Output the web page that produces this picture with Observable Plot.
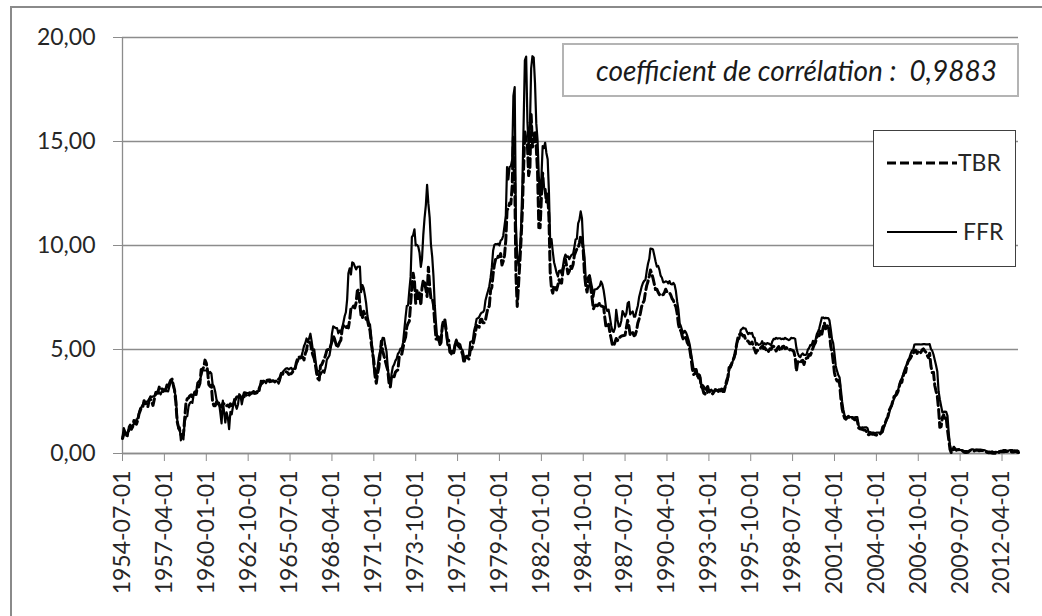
<!DOCTYPE html>
<html>
<head>
<meta charset="utf-8">
<script src="https://cdn.jsdelivr.net/npm/d3@7"></script>
<script src="https://cdn.jsdelivr.net/npm/@observablehq/plot@0.6"></script>
<style>
  html, body { margin: 0; padding: 0; background: #fff; }
  #wrap { position: relative; width: 1042px; height: 616px; overflow: hidden; font-family: Lato, "Open Sans", sans-serif; }
  #wrap > svg.plot { position: absolute; left: 0; top: 0; }
  #frame { position: absolute; left: 10px; top: 6px; width: 1040px; height: 620px; border: 2px solid #8a8a8a; box-sizing: border-box; pointer-events: none; }
  #corr { position: absolute; left: 562px; top: 43px; width: 457px; height: 54px; border: 2px solid #b4b4b4; box-sizing: border-box; background: #fff;
          font-style: italic; font-size: 28px; color: #1a1a1a; display: flex; align-items: center; justify-content: center; padding-left: 12px; white-space: pre; }
  #legend { position: absolute; left: 873px; top: 130px; width: 143px; height: 137px; border: 1.5px solid #404040; box-sizing: border-box; background: #fff; }
</style>
</head>
<body>
<div id="wrap">
  <div id="chart"></div>
  <div id="frame"></div>
  <div id="corr"></div>
  <div id="legend"></div>
</div>
<script>
// ---- data (monthly, starting 1954-07) ----
const startMonth = "1954-07-01";
const seriesNames = ["TBR", "FFR"];
const corrLabel = "coefficient de corrélation :  0,9883";
const yTicks = [0, 5, 10, 15, 20];
const xTickLabels = ["1954-07-01","1957-04-01","1960-01-01","1962-10-01","1965-07-01","1968-04-01","1971-01-01","1973-10-01","1976-07-01","1979-04-01","1982-01-01","1984-10-01","1987-07-01","1990-04-01","1993-01-01","1995-10-01","1998-07-01","2001-04-01","2004-01-01","2006-10-01","2009-07-01","2012-04-01"];

const ffr = [
0.80,1.22,1.06,0.85,0.83,1.28,
1.39,1.29,1.35,1.43,1.43,1.64,1.68,1.96,2.18,2.24,2.35,2.48,
2.45,2.50,2.50,2.62,2.75,2.71,2.75,2.73,2.95,2.96,2.88,2.94,
2.84,3.00,2.96,3.00,3.00,3.00,2.99,3.24,3.47,3.50,3.28,2.98,
2.72,1.67,1.20,1.26,0.63,0.93,0.68,1.53,1.76,1.80,2.27,2.42,
2.48,2.43,2.80,2.96,2.90,3.39,3.47,3.50,3.76,3.98,4.00,3.99,
3.99,3.97,3.84,3.92,3.85,3.32,3.23,2.98,2.60,2.47,2.44,1.98,
1.45,2.54,2.02,1.49,1.98,1.73,1.17,2.00,1.88,2.26,2.61,2.33,
2.15,2.37,2.85,2.78,2.36,2.68,2.71,2.93,2.90,2.90,2.94,2.93,
2.92,3.00,2.98,2.90,3.00,2.99,3.02,3.49,3.48,3.50,3.48,3.38,
3.48,3.48,3.43,3.47,3.50,3.50,3.42,3.50,3.45,3.36,3.52,3.85,
3.90,3.98,4.04,4.09,4.10,4.04,4.09,4.12,4.01,4.08,4.10,4.32,
4.42,4.60,4.65,4.67,4.90,5.17,5.30,5.53,5.40,5.53,5.76,5.40,
4.94,5.00,4.53,4.05,3.94,3.98,3.79,3.90,3.99,3.88,4.13,4.51,
4.61,4.71,5.05,5.76,6.11,6.07,6.03,6.03,5.78,5.91,5.82,6.02,
6.30,6.61,6.79,7.41,8.67,8.90,8.61,9.19,9.15,9.00,8.85,8.97,
8.98,8.98,7.76,8.10,7.95,7.61,7.21,6.61,6.29,6.20,5.60,4.90,
4.14,3.72,3.71,4.16,4.63,4.91,5.31,5.56,5.55,5.20,4.91,4.14,
3.50,3.29,3.83,4.17,4.27,4.46,4.55,4.80,4.87,5.04,5.06,5.33,
5.94,6.58,7.09,7.12,7.84,8.49,10.40,10.50,10.78,10.01,10.03,9.95,
9.65,8.97,9.35,10.51,11.31,11.93,12.92,12.01,11.34,10.06,9.45,8.53,
7.13,6.24,5.54,5.49,5.22,5.55,6.10,6.14,6.24,5.82,5.22,5.20,
4.87,4.77,4.84,4.82,5.29,5.48,5.31,5.29,5.25,5.02,4.95,4.65,
4.61,4.68,4.69,4.73,5.35,5.39,5.42,5.90,6.14,6.47,6.51,6.56,
6.70,6.78,6.79,6.89,7.36,7.60,7.81,8.04,8.45,8.96,9.76,10.03,
10.07,10.06,10.09,10.01,10.24,10.29,10.47,10.94,11.43,13.77,13.18,13.78,
13.82,14.13,17.19,17.61,10.98,9.47,9.03,9.61,10.87,12.81,15.85,18.90,
19.08,15.93,14.70,15.72,18.52,19.10,19.04,17.82,15.87,15.08,13.31,12.37,
13.22,14.78,14.68,14.94,14.45,14.15,12.59,10.12,10.31,9.71,9.20,8.95,
8.68,8.51,8.77,8.80,8.63,8.98,9.37,9.56,9.45,9.48,9.34,9.47,
9.56,9.59,9.91,10.29,10.32,11.06,11.23,11.64,11.30,9.99,9.43,8.38,
8.35,8.50,8.58,8.27,7.97,7.53,7.88,7.90,7.92,7.99,8.05,8.27,
8.14,7.86,7.48,6.99,6.85,6.92,6.56,6.17,5.89,5.85,6.04,6.91,
6.43,6.10,6.13,6.37,6.85,6.73,6.58,6.73,7.22,7.29,6.69,6.77,
6.83,6.58,6.58,6.87,7.09,7.51,7.75,8.01,8.19,8.30,8.35,8.76,
9.12,9.36,9.85,9.84,9.81,9.53,9.24,8.99,9.02,8.84,8.55,8.45,
8.23,8.24,8.28,8.26,8.18,8.29,8.15,8.13,8.20,8.11,7.81,7.31,
6.91,6.25,6.12,5.91,5.78,5.90,5.82,5.66,5.45,5.21,4.81,4.43,
4.03,4.06,3.98,3.73,3.82,3.76,3.25,3.30,3.22,3.10,3.09,2.92,
3.02,3.03,3.07,2.96,3.00,3.04,3.06,3.03,3.09,2.99,3.02,2.96,
3.05,3.25,3.34,3.56,4.01,4.25,4.26,4.47,4.73,4.76,5.29,5.45,
5.53,5.92,5.98,6.05,6.01,6.00,5.85,5.74,5.80,5.76,5.80,5.60,
5.56,5.22,5.31,5.22,5.24,5.27,5.40,5.22,5.30,5.24,5.31,5.29,
5.25,5.19,5.39,5.51,5.50,5.56,5.52,5.54,5.54,5.50,5.52,5.50,
5.56,5.51,5.49,5.45,5.49,5.56,5.54,5.55,5.51,5.07,4.83,4.68,
4.63,4.76,4.81,4.74,4.74,4.76,4.99,5.07,5.22,5.20,5.42,5.30,
5.45,5.73,5.85,6.02,6.27,6.53,6.54,6.50,6.52,6.51,6.51,6.40,
5.98,5.49,5.31,4.80,4.21,3.97,3.77,3.65,3.07,2.49,2.09,1.82,
1.73,1.74,1.73,1.75,1.75,1.75,1.73,1.74,1.75,1.75,1.34,1.24,
1.24,1.26,1.25,1.26,1.26,1.22,1.01,1.03,1.01,1.01,1.00,0.98,
1.00,1.01,1.00,1.00,1.00,1.03,1.26,1.43,1.61,1.76,1.93,2.16,
2.28,2.50,2.63,2.79,3.00,3.04,3.26,3.50,3.62,3.78,4.00,4.16,
4.29,4.49,4.59,4.79,4.94,4.99,5.24,5.25,5.25,5.25,5.25,5.24,
5.25,5.26,5.26,5.25,5.25,5.25,5.26,5.02,4.94,4.76,4.49,4.24,
3.94,2.98,2.61,2.28,1.98,2.00,2.01,2.00,1.81,0.97,0.39,0.16,
0.15,0.22,0.18,0.15,0.18,0.21,0.16,0.16,0.15,0.12,0.12,0.12,
0.11,0.13,0.16,0.20,0.20,0.18,0.18,0.19,0.19,0.19,0.19,0.18,
0.17,0.16,0.14,0.10,0.09,0.09,0.07,0.10,0.08,0.07,0.08,0.07,
0.08,0.10,0.13,0.14,0.16,0.16,0.16,0.13,0.14,0.16,0.16,0.16,
0.14,0.15,0.14,0.15,0.11
];

const tbr = [
0.72,0.92,1.01,0.98,0.93,1.14,
1.23,1.17,1.28,1.59,1.45,1.41,1.60,1.90,2.07,2.23,2.24,2.54,
2.41,2.32,2.25,2.60,2.61,2.49,2.31,2.60,2.84,2.90,2.99,3.21,
3.11,3.10,3.08,3.06,3.06,3.29,3.16,3.37,3.53,3.58,3.29,3.04,
2.44,1.53,1.30,1.13,0.91,0.83,0.91,1.69,2.44,2.63,2.67,2.77,
2.82,2.70,2.80,2.95,2.84,3.21,3.20,3.38,4.04,4.05,4.15,4.49,
4.35,3.96,3.31,3.23,3.29,2.46,2.30,2.30,2.48,2.30,2.37,2.25,
2.24,2.42,2.39,2.29,2.29,2.33,2.24,2.39,2.28,2.30,2.48,2.60,
2.72,2.73,2.72,2.73,2.68,2.73,2.92,2.82,2.78,2.74,2.83,2.87,
2.91,2.92,2.89,2.90,2.93,2.99,3.18,3.32,3.38,3.45,3.52,3.52,
3.52,3.53,3.54,3.47,3.48,3.48,3.46,3.50,3.53,3.57,3.64,3.84,
3.81,3.93,3.93,3.93,3.89,3.80,3.84,3.84,3.92,4.03,4.09,4.38,
4.59,4.65,4.59,4.62,4.64,4.50,4.80,4.96,5.37,5.35,5.32,4.96,
4.72,4.56,4.26,3.84,3.60,3.54,4.21,4.27,4.42,4.56,4.73,4.97,
5.00,4.98,5.17,5.38,5.66,5.52,5.31,5.09,5.19,5.35,5.45,5.96,
6.14,6.12,6.02,6.11,6.04,6.44,7.00,6.98,7.09,7.00,7.24,7.82,
7.87,7.13,6.63,6.51,6.84,6.68,6.45,6.41,6.12,5.91,5.28,4.87,
4.44,3.70,3.38,3.86,4.14,4.75,5.40,4.94,4.69,4.46,4.22,4.01,
3.38,3.20,3.73,3.71,3.69,3.91,3.98,4.02,4.66,4.74,4.78,5.07,
5.41,5.60,6.09,6.26,6.36,7.19,8.01,8.67,8.29,7.22,7.83,7.45,
7.77,7.12,7.96,8.33,8.23,7.90,7.55,8.96,8.06,7.46,7.47,7.15,
6.26,5.50,5.49,5.61,5.23,5.34,6.13,6.44,6.42,5.96,5.48,5.44,
4.87,4.88,5.00,4.86,5.20,5.41,5.23,5.14,5.08,4.92,4.75,4.35,
4.62,4.67,4.60,4.54,4.96,5.02,5.19,5.49,5.81,6.16,6.10,6.07,
6.44,6.45,6.29,6.29,6.41,6.73,7.01,7.08,7.85,7.99,8.64,9.08,
9.35,9.32,9.48,9.46,9.61,9.06,9.24,9.52,10.26,11.70,11.79,12.04,
12.00,12.86,15.20,13.20,8.58,7.07,8.06,9.13,10.27,11.62,13.73,15.49,
15.02,14.79,13.36,13.69,16.30,14.73,14.95,15.51,14.70,13.54,10.86,10.85,
12.28,13.48,12.68,12.70,12.09,12.47,11.35,8.68,7.92,7.71,8.07,7.94,
7.86,8.11,8.35,8.21,8.19,8.79,9.08,9.34,9.00,8.64,8.76,9.00,
8.90,9.09,9.52,9.69,9.83,9.87,10.12,10.47,10.37,9.74,8.61,8.06,
7.76,8.27,8.52,7.95,7.48,6.95,7.08,7.14,7.10,7.16,7.24,7.10,
7.07,7.06,6.56,6.06,6.15,6.21,5.83,5.53,5.21,5.18,5.35,5.53,
5.43,5.59,5.59,5.64,5.66,5.67,5.69,6.04,6.40,6.13,5.69,5.77,
5.81,5.66,5.70,5.91,6.26,6.46,6.73,7.06,7.24,7.35,7.76,8.07,
8.27,8.53,8.82,8.65,8.43,8.15,7.88,7.90,7.75,7.64,7.69,7.63,
7.64,7.74,7.90,7.77,7.74,7.73,7.62,7.45,7.36,7.17,7.06,6.74,
6.22,5.94,5.91,5.65,5.46,5.57,5.58,5.33,5.22,4.99,4.56,4.07,
3.80,3.84,4.04,3.75,3.63,3.66,3.21,3.13,2.91,2.86,3.13,3.22,
3.00,2.93,2.95,2.87,2.96,3.07,3.04,3.02,2.95,3.02,3.10,3.06,
2.98,3.25,3.50,3.68,4.14,4.14,4.33,4.48,4.62,4.95,5.29,5.60,
5.71,5.77,5.73,5.65,5.67,5.47,5.42,5.40,5.28,5.28,5.36,5.14,
5.00,4.83,4.96,4.95,5.02,5.09,5.15,5.05,5.09,4.99,5.03,4.91,
5.03,5.01,5.14,5.16,5.05,4.93,5.05,5.14,4.95,4.97,5.14,5.16,
5.04,5.09,5.03,4.95,5.00,4.98,4.96,4.90,4.61,3.96,4.41,4.39,
4.34,4.45,4.48,4.28,4.51,4.59,4.60,4.76,4.73,4.88,5.07,5.23,
5.34,5.57,5.72,5.67,5.92,5.74,6.03,6.29,6.00,6.11,6.17,5.77,
5.15,4.88,4.42,3.87,3.62,3.49,3.51,3.36,2.64,2.16,1.87,1.69,
1.65,1.73,1.79,1.72,1.73,1.70,1.68,1.62,1.63,1.58,1.23,1.19,
1.17,1.17,1.13,1.13,1.07,0.92,0.90,0.95,0.94,0.92,0.93,0.90,
0.88,0.93,0.94,0.94,1.02,1.27,1.33,1.48,1.65,1.76,2.07,2.19,
2.33,2.54,2.74,2.78,2.84,2.97,3.22,3.44,3.42,3.71,3.88,3.89,
4.24,4.43,4.51,4.60,4.72,4.79,4.95,4.96,4.81,4.92,4.94,4.85,
4.98,5.03,4.94,4.87,4.73,4.61,4.82,4.20,3.89,3.90,3.27,3.00,
2.75,2.12,1.26,1.29,1.73,1.86,1.63,1.72,1.13,0.67,0.19,0.03,
0.13,0.30,0.22,0.16,0.18,0.18,0.18,0.17,0.12,0.07,0.05,0.05,
0.06,0.11,0.15,0.16,0.16,0.12,0.16,0.16,0.15,0.13,0.14,0.14,
0.15,0.13,0.10,0.06,0.04,0.04,0.04,0.02,0.01,0.02,0.01,0.01,
0.03,0.09,0.08,0.08,0.09,0.09,0.10,0.10,0.11,0.10,0.09,0.07,
0.07,0.10,0.09,0.06,0.04
];

// ---- build table ----
const parseDate = d3.utcParse("%Y-%m-%d");
const t0 = parseDate(startMonth);
const rows = ffr.map((v, i) => ({ date: d3.utcMonth.offset(t0, i), FFR: v, TBR: tbr[i] }));
const xTicks = xTickLabels.map(parseDate);
const fmtY = d => d3.format(".2f")(d).replace(".", ",");
const fmtX = d3.utcFormat("%Y-%m-%d");
const gridColor = "#8c8c8c";
const textColor = "#262626";

const chart = Plot.plot({
  width: 1042,
  height: 616,
  marginLeft: 122,
  marginRight: 24,
  marginTop: 37,
  marginBottom: 163,
  style: { fontFamily: "Lato, 'Open Sans', sans-serif", fontSize: "23px", color: textColor, background: "transparent", overflow: "visible" },
  x: { type: "utc", domain: [rows[0].date, rows[rows.length - 1].date] },
  y: { domain: [0, 20] },
  marks: [
    Plot.gridY(yTicks, { stroke: gridColor, strokeOpacity: 1, strokeWidth: 1.3 }),
    Plot.ruleX([rows[0].date], { y1: 0, y2: 20, stroke: gridColor, strokeWidth: 1.3 }),
    Plot.ruleY([0], { stroke: gridColor, strokeWidth: 1.3 }),
    Plot.axisY(yTicks, { tickSize: 9, tickPadding: 18, tickFormat: fmtY, stroke: gridColor, fill: textColor, label: null, fontSize: 23 }),
    Plot.axisX(xTicks, { tickSize: 8, tickPadding: 9, tickRotate: -90, tickFormat: fmtX, stroke: gridColor, fill: textColor, label: null, fontSize: 23 }),
    Plot.lineY(rows, { x: "date", y: seriesNames[0], stroke: "#000", strokeWidth: 3, strokeDasharray: "9,4", strokeLinejoin: "round" }),
    Plot.lineY(rows, { x: "date", y: seriesNames[1], stroke: "#000", strokeWidth: 2.2, strokeLinejoin: "round" })
  ]
});
chart.classList.add("plot");
document.getElementById("chart").appendChild(chart);

// ---- annotation box ----
document.getElementById("corr").textContent = corrLabel;

// ---- legend ----
const leg = d3.select("#legend").append("svg").attr("width", 140).attr("height", 134).style("display", "block");
const legItems = [
  { name: seriesNames[0], dash: "9,4", w: 3, y: 32, tx: 84 },
  { name: seriesNames[1], dash: null, w: 2, y: 101, tx: 89 }
];
legItems.forEach(it => {
  leg.append("line").attr("x1", 13).attr("x2", 83).attr("y1", it.y).attr("y2", it.y)
    .attr("stroke", "#000").attr("stroke-width", it.w).attr("stroke-dasharray", it.dash);
  leg.append("text").attr("x", it.tx).attr("y", it.y).attr("dy", "0.35em")
    .attr("font-family", "Lato, 'Open Sans', sans-serif").attr("font-size", 23).attr("fill", textColor).text(it.name);
});
</script>
</body>
</html>
